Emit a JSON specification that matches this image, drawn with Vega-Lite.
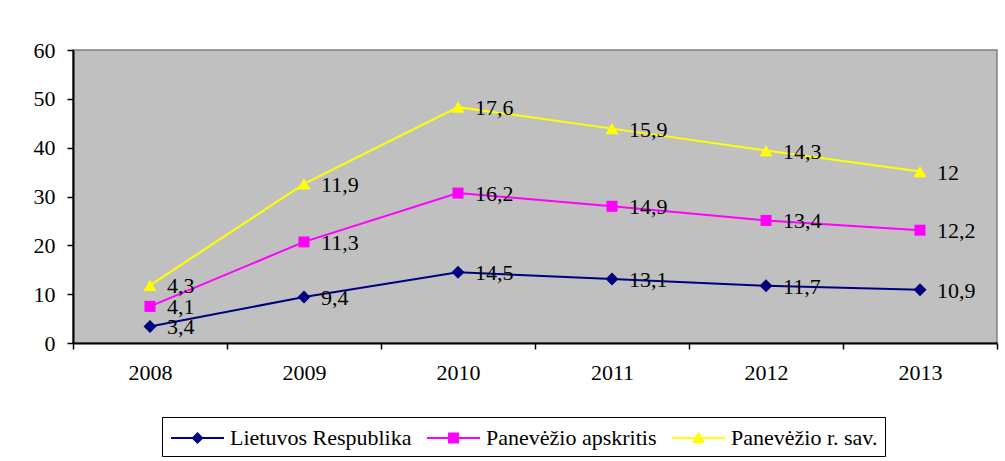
{
  "$schema": "https://vega.github.io/schema/vega-lite/v6.json",
  "width": 924,
  "height": 293,
  "autosize": {"type": "none"},
  "padding": {"left": 73, "top": 50, "right": 8, "bottom": 118},
  "background": "white",
  "config": {
    "font": "Liberation Serif",
    "view": {"fill": "#C0C0C0", "stroke": "#808080", "strokeWidth": 1.5},
    "locale": {"number": {"decimal": ",", "thousands": " ", "grouping": [3], "currency": ["", " €"]}}
  },
  "data": {
    "values": [
      {"year": "2008", "series": "Lietuvos Respublika", "k": 1, "value": 3.4},
      {"year": "2009", "series": "Lietuvos Respublika", "k": 1, "value": 9.4},
      {"year": "2010", "series": "Lietuvos Respublika", "k": 1, "value": 14.5},
      {"year": "2011", "series": "Lietuvos Respublika", "k": 1, "value": 13.1},
      {"year": "2012", "series": "Lietuvos Respublika", "k": 1, "value": 11.7},
      {"year": "2013", "series": "Lietuvos Respublika", "k": 1, "value": 10.9},
      {"year": "2008", "series": "Panevėžio apskritis", "k": 2, "value": 4.1},
      {"year": "2009", "series": "Panevėžio apskritis", "k": 2, "value": 11.3},
      {"year": "2010", "series": "Panevėžio apskritis", "k": 2, "value": 16.2},
      {"year": "2011", "series": "Panevėžio apskritis", "k": 2, "value": 14.9},
      {"year": "2012", "series": "Panevėžio apskritis", "k": 2, "value": 13.4},
      {"year": "2013", "series": "Panevėžio apskritis", "k": 2, "value": 12.2},
      {"year": "2008", "series": "Panevėžio r. sav.", "k": 3, "value": 4.3},
      {"year": "2009", "series": "Panevėžio r. sav.", "k": 3, "value": 11.9},
      {"year": "2010", "series": "Panevėžio r. sav.", "k": 3, "value": 17.6},
      {"year": "2011", "series": "Panevėžio r. sav.", "k": 3, "value": 15.9},
      {"year": "2012", "series": "Panevėžio r. sav.", "k": 3, "value": 14.3},
      {"year": "2013", "series": "Panevėžio r. sav.", "k": 3, "value": 12}
    ]
  },
  "transform": [
    {"stack": "value", "groupby": ["year"], "sort": [{"field": "k", "order": "ascending"}], "as": ["y0", "y1"]}
  ],
  "encoding": {
    "x": {
      "field": "year",
      "type": "ordinal",
      "scale": {"type": "band", "paddingInner": 0, "paddingOuter": 0},
      "axis": {
        "title": null,
        "labelAngle": 0,
        "tickBand": "extent",
        "domainColor": "black",
        "domainWidth": 2,
        "tickColor": "black",
        "tickWidth": 1.5,
        "tickSize": 6,
        "labelFontSize": 22,
        "labelColor": "black",
        "labelPadding": 13,
        "grid": false
      }
    },
    "y": {
      "field": "y1",
      "type": "quantitative",
      "scale": {"domain": [0, 60]},
      "axis": {
        "title": null,
        "values": [0, 10, 20, 30, 40, 50, 60],
        "grid": false,
        "domainColor": "black",
        "domainWidth": 2,
        "tickColor": "black",
        "tickWidth": 1.5,
        "tickSize": 6,
        "labelFontSize": 22,
        "labelColor": "black",
        "labelPadding": 12
      }
    },
    "color": {
      "field": "series",
      "type": "nominal",
      "scale": {
        "domain": ["Lietuvos Respublika", "Panevėžio apskritis", "Panevėžio r. sav."],
        "range": ["#000080", "#FF00FF", "#FFFF00"]
      },
      "legend": {
        "title": null,
        "orient": "none",
        "legendX": 89,
        "legendY": 367,
        "direction": "horizontal",
        "strokeColor": "black",
        "padding": 7,
        "labelFontSize": 22,
        "labelColor": "black",
        "labelFont": "Liberation Serif",
        "labelLimit": 400,
        "symbolSize": 784,
        "symbolStrokeWidth": 0,
        "symbolOpacity": 1,
        "symbolOffset": 14.5,
        "columnPadding": 13,
        "labelOffset": 18.5
      }
    }
  },
  "layer": [
    {"mark": {"type": "line", "strokeWidth": 2}},
    {
      "transform": [{"filter": "datum.k == 1"}],
      "mark": {"type": "point", "shape": "diamond", "filled": true, "size": 169, "opacity": 1}
    },
    {
      "transform": [{"filter": "datum.k == 2"}],
      "mark": {"type": "point", "shape": "square", "filled": true, "size": 121, "opacity": 1}
    },
    {
      "transform": [{"filter": "datum.k == 3"}],
      "mark": {"type": "point", "shape": "triangle-up", "filled": true, "size": 169, "opacity": 1}
    },
    {
      "mark": {"type": "text", "align": "left", "baseline": "middle", "dx": 17, "dy": 1, "fontSize": 22, "font": "Liberation Serif", "color": "black"},
      "encoding": {
        "text": {"field": "value", "type": "quantitative", "format": "~g"},
        "color": {"value": "black"}
      }
    },
    {
      "mark": {"type": "point", "filled": true, "opacity": 0},
      "encoding": {
        "shape": {
          "field": "series",
          "type": "nominal",
          "scale": {
            "domain": ["Lietuvos Respublika", "Panevėžio apskritis", "Panevėžio r. sav."],
            "range": [
              "M-1.89,-0.07H1.89V0.07H-1.89Z M0,-0.43L0.43,0L0,0.43L-0.43,0Z",
              "M-1.89,-0.07H1.89V0.07H-1.89Z M-0.39,-0.39H0.39V0.39H-0.39Z",
              "M-1.89,-0.07H1.89V0.07H-1.89Z M0,-0.45L0.47,0.36H-0.47Z"
            ]
          },
          "legend": {
            "title": null,
            "orient": "none",
            "legendX": 89,
            "legendY": 367,
            "direction": "horizontal",
            "strokeColor": "black",
            "padding": 7,
            "labelFontSize": 22,
            "labelColor": "black",
            "labelFont": "Liberation Serif",
            "labelLimit": 400,
            "symbolSize": 784,
            "symbolStrokeWidth": 0,
            "symbolOpacity": 1,
            "symbolOffset": 14.5,
            "columnPadding": 13,
            "labelOffset": 18.5
          }
        }
      }
    }
  ]
}
